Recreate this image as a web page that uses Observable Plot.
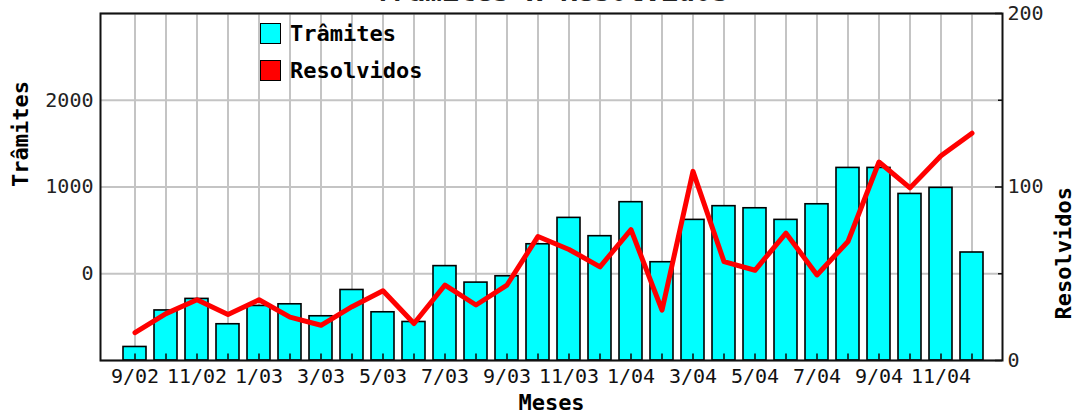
<!DOCTYPE html>
<html>
<head>
<meta charset="utf-8">
<script src="https://cdn.jsdelivr.net/npm/d3@7"></script>
<script src="https://cdn.jsdelivr.net/npm/@observablehq/plot@0.6"></script>
<style>
  body { margin: 0; background: #fff; }
  #wrap { position: relative; width: 1080px; height: 416px; overflow: hidden; }
  #chart svg text { font-family: "DejaVu Sans Mono", monospace; }
  .leg { position: absolute; left: 260px; font: bold 22px "DejaVu Sans Mono", monospace; color: #000; display: flex; align-items: center; }
  .sw { width: 19px; height: 19px; border: 1.5px solid #000; margin-right: 9px; }
</style>
</head>
<body>
<div id="wrap">
  <div id="chart"></div>
  <div class="leg" style="top:21px"><div class="sw" style="background:#00ffff"></div>Trâmites</div>
  <div class="leg" style="top:58px"><div class="sw" style="background:#ff0000"></div>Resolvidos</div>
</div>
<script>
const months = ["9/02","10/02","11/02","12/02","1/03","2/03","3/03","4/03","5/03","6/03","7/03","8/03","9/03","10/03","11/03","12/03","1/04","2/04","3/04","4/04","5/04","6/04","7/04","8/04","9/04","10/04","11/04","12/04"];
const tramites = [-844,-423,-290,-582,-371,-352,-490,-187,-444,-556,88,-102,-29,340,644,433,825,133,621,779,755,621,801,1220,1220,920,990,245];
const resolvidos = [16,27,35,26.5,35,25,20.3,31,40.2,21.3,43.5,32,43.5,71.5,64,54,75.4,29,109,57,52,73.4,49.3,68.6,114.4,99.5,118,131];
const leftTicks = [0,1000,2000];
const leftGrid = [-1000,0,1000,2000,3000];
const rightTicks = [0,100,200];
const rightMinor = [50,150];
const xLabels = months.filter((d,i) => i % 2 === 0);
const title = "Trâmites x Resolvidos";

// right axis (0..200) mapped onto left domain (-1000..3000)
const toLeft = r => -1000 + r * 20;
const fromLeft = v => (v + 1000) / 20;

const data = months.map((m,i) => ({month: m, t: tramites[i], r: toLeft(resolvidos[i])}));

const chart = Plot.plot({
  width: 1080,
  height: 416,
  marginLeft: 100,
  marginRight: 78,
  marginTop: 13,
  marginBottom: 56,
  style: {fontFamily: "DejaVu Sans Mono", fontSize: "20px", color: "#111", background: "#fff"},
  x: {type: "band", domain: months, range: [118.2, 988.3], paddingInner: 0.27, paddingOuter: 0.135, axis: null},
  y: {domain: [-1000, 3000], axis: null},
  marks: [
    Plot.ruleY(leftGrid, {y: d => d, stroke: "#c4c4c4", strokeWidth: 2}),
    Plot.ruleX(months, {x: d => d, stroke: "#c4c4c4", strokeWidth: 2}),
    Plot.barY(data, {x: "month", y1: -1000, y2: "t", fill: "#00ffff", stroke: "#000", strokeWidth: 1.6}),
    Plot.ruleX(months, {x: d => d, y1: -1000, y2: -925, stroke: "#111", strokeWidth: 1.6}),
    Plot.line(data, {x: "month", y: "r", stroke: "#ff0000", strokeWidth: 5}),
    Plot.frame({stroke: "#111", strokeWidth: 2}),
    Plot.ruleY(rightTicks.map(toLeft), {y: d => d, stroke: "#111", strokeWidth: 1.6, strokeDasharray: "0 895 7 0"}),
    Plot.ruleY(rightMinor.map(toLeft), {y: d => d, stroke: "#111", strokeWidth: 1.6, strokeDasharray: "0 898 4 0"}),
    Plot.axisY(leftTicks, {anchor: "left", tickSize: 0, tickPadding: 7, fontSize: 20, fill: "#222", tickFormat: d => String(d), label: null}),
    Plot.axisY(rightTicks.map(toLeft), {anchor: "right", tickSize: 0, tickPadding: 5, fontSize: 20, fill: "#222", tickFormat: d => String(fromLeft(d)), label: null}),
    Plot.axisX(xLabels, {anchor: "bottom", tickSize: 0, tickPadding: 8, fontSize: 20, fill: "#111", label: null}),
    Plot.text(["Trâmites"], {frameAnchor: "left", dx: -80, rotate: -90, fontSize: 22, fontWeight: "bold", fill: "#000"}),
    Plot.text(["Resolvidos"], {frameAnchor: "right", dx: 61, rotate: -90, fontSize: 22, fontWeight: "bold", fill: "#000"}),
    Plot.text(["Meses"], {frameAnchor: "bottom", dy: 49, fontSize: 22, fontWeight: "bold", fill: "#000"}),
    Plot.text([title], {frameAnchor: "top", dy: -13, lineAnchor: "bottom", fontSize: 28, fontWeight: "bold", fill: "#222"})
  ]
});
document.getElementById("chart").appendChild(chart);
</script>
</body>
</html>
